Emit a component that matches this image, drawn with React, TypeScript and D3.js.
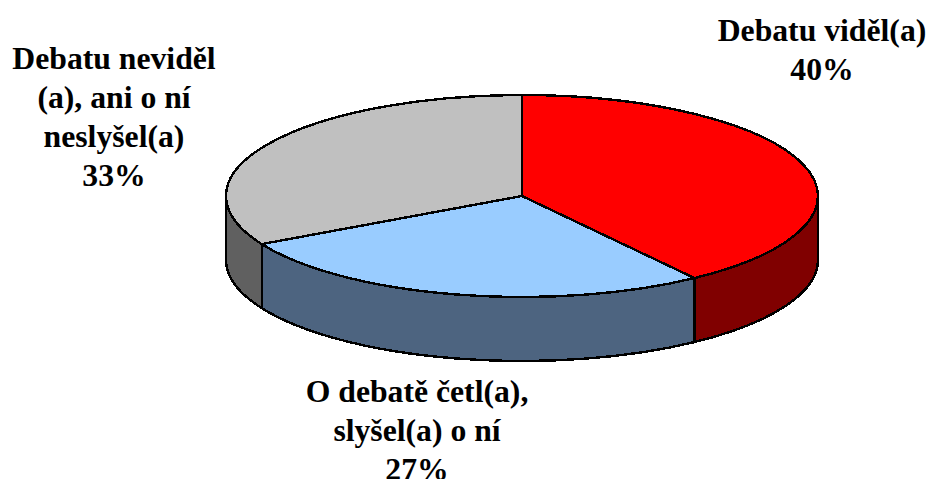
import React from "react";
import * as d3 from "d3";

const categories = ["Debatu viděl(a)", "O debatě četl(a), slyšel(a) o ní", "Debatu neviděl (a), ani o ní neslyšel(a)"];
const values = [40.1, 27, 32.9];
const topColors = ["#ff0000", "#99ccff", "#c0c0c0"];
const sideColors = ["#800000", "#4d6480", "#606060"];
const labelLines = [
  { lines: ["Debatu viděl(a)", "40%"], x: 822, y: 41 },
  { lines: ["O debatě četl(a),", "slyšel(a) o ní", "27%"], x: 417, y: 402 },
  { lines: ["Debatu neviděl", "(a), ani o ní", "neslyšel(a)", "33%"], x: 114, y: 69 },
];
const LINE_H = 39;

const W = 927, H = 479;
const cx = 522, cy = 196, rx = 296, ry = 101, depth = 64;

const pieGen = d3.pie<number>().sort(null).startAngle(0).endAngle(2 * Math.PI);
const arcs = pieGen(values);

const pt = (a: number, dy = 0): [number, number] => [cx + rx * Math.sin(a), cy - ry * Math.cos(a) + dy];

function topPath(a0: number, a1: number) {
  const [x0, y0] = pt(a0);
  const [x1, y1] = pt(a1);
  const large = a1 - a0 > Math.PI ? 1 : 0;
  return `M${cx},${cy}L${x0},${y0}A${rx},${ry} 0 ${large} 1 ${x1},${y1}Z`;
}

function sidePath(a0: number, a1: number) {
  const s = Math.max(a0, Math.PI / 2);
  const e = Math.min(a1, (3 * Math.PI) / 2);
  if (e <= s) return null;
  const [x0, y0] = pt(s);
  const [x1, y1] = pt(e);
  return `M${x0},${y0}A${rx},${ry} 0 0 1 ${x1},${y1}L${x1},${y1 + depth}A${rx},${ry} 0 0 0 ${x0},${y0 + depth}Z`;
}

export default function App() {
  return (
    <svg width={W} height={H} viewBox={`0 0 ${W} ${H}`} style={{ position: "absolute", left: 0, top: 0, background: "#fff" }}>
      {arcs.map((d, i) => {
        const p = sidePath(d.startAngle, d.endAngle);
        return p ? <path key={categories[i]} d={p} fill={sideColors[i]} stroke="#000" strokeWidth={2.4} strokeLinejoin="round" shapeRendering="crispEdges" /> : null;
      })}
      {arcs.map((d, i) => (
        <path key={categories[i]} d={topPath(d.startAngle, d.endAngle)} fill={topColors[i]} stroke="#000" strokeWidth={2.4} strokeLinejoin="round" shapeRendering="crispEdges" />
      ))}
      {labelLines.map((l, i) => (
        <text key={i} textAnchor="middle" fontFamily="'Liberation Serif', serif" fontWeight="bold" fontSize={31.7} fill="#000">
          {l.lines.map((t, j) => (
            <tspan key={j} x={l.x} y={l.y + j * LINE_H}>{t}</tspan>
          ))}
        </text>
      ))}
    </svg>
  );
}
